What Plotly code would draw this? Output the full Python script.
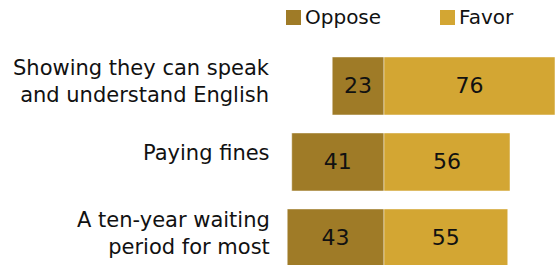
import plotly.graph_objects as go

categories = ["Showing they can speak<br>and understand English", "Paying fines", "A ten-year waiting<br>period for most"]
oppose = [23, 41, 43]
favor = [76, 56, 55]
series_names = ["Oppose", "Favor"]

OPPOSE_COLOR = "#9f7b27"
FAVOR_COLOR = "#d3a633"
FONT = "DejaVu Sans"
EDGE = "rgba(255,255,255,0.45)"

fig = go.Figure()
fig.add_trace(go.Bar(
    y=categories, x=[-v for v in oppose], orientation="h",
    name=series_names[0], marker=dict(color=OPPOSE_COLOR, line=dict(color=EDGE, width=1)),
    text=[str(v) for v in oppose], textposition="inside", insidetextanchor="middle",
    textfont=dict(color="#111111", size=22, family=FONT), width=0.763, showlegend=False,
))
fig.add_trace(go.Bar(
    y=categories, x=favor, orientation="h",
    name=series_names[1], marker=dict(color=FAVOR_COLOR, line=dict(color=EDGE, width=1)),
    text=[str(v) for v in favor], textposition="inside", insidetextanchor="middle",
    textfont=dict(color="#111111", size=22, family=FONT), width=0.763, showlegend=False,
))

# category labels (placed slightly above bar centre, as in the reference)
for cat in categories:
    shift = 4 if "<br>" in cat else 9
    fig.add_annotation(text=cat, xref="paper", yref="y", x=-8 / 276, y=cat,
                       xanchor="right", yanchor="middle", align="right", yshift=shift,
                       showarrow=False, font=dict(size=21, color="#111111", family=FONT))

# custom legend
legend_items = [(series_names[0], OPPOSE_COLOR, 286), (series_names[1], FAVOR_COLOR, 440)]
for name, color, px in legend_items:
    fig.add_shape(type="rect", xref="paper", yref="paper",
                  x0=(px - 280) / 276, x1=(px + 15 - 280) / 276,
                  y0=(265 - 25) / 225, y1=(265 - 10) / 225,
                  fillcolor=color, line=dict(width=0))
    fig.add_annotation(text=name, xref="paper", yref="paper",
                       x=(px + 17 - 280) / 276, y=(265 - 17) / 225,
                       xanchor="left", yanchor="middle", showarrow=False,
                       font=dict(size=20, color="#111111", family=FONT))

fig.update_layout(
    width=556, height=265,
    margin=dict(l=280, r=0, t=40, b=0),
    barmode="relative",
    plot_bgcolor="white", paper_bgcolor="white",
    font=dict(family=FONT, size=20, color="#111111"),
    uniformtext=dict(mode=False),
    hovermode=False,
)
fig.update_xaxes(range=[-46.22, 76.45], visible=False, fixedrange=True)
fig.update_yaxes(range=[2.356, -0.605], showgrid=False, zeroline=False, showline=False,
                 showticklabels=False, ticks="", automargin=False, fixedrange=True)

fig.write_html("out.html", config={"displayModeBar": False, "staticPlot": True},
               post_script="document.body.style.margin='0px';document.body.style.overflow='hidden';")
